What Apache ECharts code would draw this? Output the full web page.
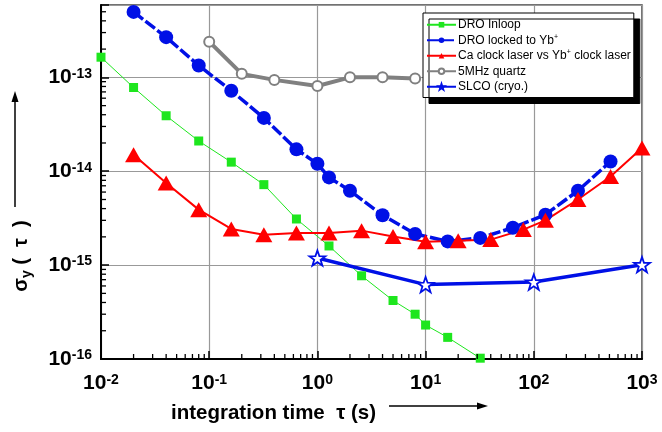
<!DOCTYPE html>
<html>
<head>
<meta charset="utf-8">
<script src="https://cdn.jsdelivr.net/npm/echarts@6/dist/echarts.min.js"></script>
<style>
  html, body { margin: 0; padding: 0; background: #fff; }
  #chart { width: 662px; height: 432px; }
</style>
</head>
<body>
<div id="chart"></div>
<script>
// tick decades (exponents of 10)
const xTickExps = [-2, -1, 0, 1, 2, 3];
const yTickExps = [-16, -15, -14, -13];
const xMin = 0.01, xMax = 1000;
const yMin = 1e-16, yMax = 5.9e-13;

// DRO Inloop
const droInX = [0.01, 0.02, 0.04, 0.08, 0.16, 0.32, 0.64, 1.28, 2.56, 5, 8, 10, 16, 32];
const droInY = [1.64e-13, 7.8e-14, 3.9e-14, 2.1e-14, 1.25e-14, 7.2e-15, 3.1e-15, 1.6e-15, 7.7e-16, 4.2e-16, 3.0e-16, 2.3e-16, 1.7e-16, 1.02e-16];

// DRO locked to Yb+
const droYbX = [0.02, 0.04, 0.08, 0.16, 0.32, 0.64, 1, 1.28, 2, 4, 8, 16, 32, 64, 128, 256, 512];
const droYbY = [4.98e-13, 2.68e-13, 1.34e-13, 7.2e-14, 3.7e-14, 1.71e-14, 1.2e-14, 8.6e-15, 6.2e-15, 3.4e-15, 2.15e-15, 1.79e-15, 1.95e-15, 2.5e-15, 3.45e-15, 6.2e-15, 1.27e-14];

// Ca clock laser vs Yb+ clock laser
const caX = [0.02, 0.04, 0.08, 0.16, 0.32, 0.64, 1.28, 2.56, 5, 10, 20, 40, 80, 128, 256, 512, 1000];
const caY = [1.5e-14, 7.5e-15, 3.9e-15, 2.43e-15, 2.11e-15, 2.2e-15, 2.2e-15, 2.33e-15, 2.02e-15, 1.77e-15, 1.82e-15, 1.87e-15, 2.39e-15, 3.0e-15, 5.0e-15, 8.8e-15, 1.77e-14];

// 5MHz quartz
const quartzX = [0.1, 0.2, 0.4, 1, 2, 4, 8];
const quartzY = [2.4e-13, 1.09e-13, 9.4e-14, 8.1e-14, 1.0e-13, 1.0e-13, 9.7e-14];

// SLCO (cryo.)
const slcoX = [1, 10, 100, 1000];
const slcoY = [1.19e-15, 6.2e-16, 6.6e-16, 1.01e-15];

const pairs = (xs, ys) => xs.map((x, i) => [x, ys[i]]);

const FONT = "'Liberation Sans', Arial, sans-serif";
const starPath = 'path://M50 0 L61.76 33.82 L97.55 34.55 L69.02 56.18 L79.39 90.45 L50 70 L20.61 90.45 L30.98 56.18 L2.45 34.55 L38.24 33.82 Z';

function isDecade(v, exps) {
  const l = Math.log10(v);
  const e = Math.round(l);
  return Math.abs(l - e) < 1e-6 && exps.indexOf(e) >= 0 ? e : null;
}

const labelRich = {
  b: { fontSize: 21, fontWeight: 'bold', fontFamily: FONT, color: '#000', verticalAlign: 'bottom' },
  e: { fontSize: 14, fontWeight: 'bold', fontFamily: FONT, color: '#000', verticalAlign: 'top' }
};

const chart = echarts.init(document.getElementById('chart'));

const option = {
  animation: false,
  backgroundColor: '#fff',
  grid: {
    left: 101, right: 20, top: 5, bottom: 73,
    show: true, borderColor: '#444', borderWidth: 1.5, backgroundColor: 'transparent'
  },
  xAxis: {
    type: 'log', logBase: 10, min: xMin, max: xMax,
    axisLine: { lineStyle: { color: '#000', width: 2 } },
    axisTick: { inside: true, length: 8, lineStyle: { color: '#000', width: 1.5 } },
    splitLine: { show: true, lineStyle: { color: '#999', width: 1.2 } },
    axisLabel: {
      margin: 14,
      formatter: v => { const e = isDecade(v, xTickExps); return e === null ? '' : '{b|10}{e|' + e + '}'; },
      rich: labelRich
    }
  },
  yAxis: {
    type: 'log', logBase: 10, min: yMin, max: yMax,
    axisLine: { lineStyle: { color: '#000', width: 2 } },
    axisTick: { inside: true, length: 8, lineStyle: { color: '#000', width: 1.5 } },
    splitLine: { show: true, lineStyle: { color: '#999', width: 1.2 } },
    axisLabel: {
      margin: 9,
      formatter: v => { const e = isDecade(v, yTickExps); return e === null ? '' : '{b|10}{e|' + e + '}'; },
      rich: labelRich
    }
  },
  legend: {
    orient: 'vertical',
    left: 423, top: 13,
    padding: [5, 3, 4, 3],
    itemGap: 2,
    itemWidth: 29, itemHeight: 7,
    backgroundColor: '#fff',
    borderColor: '#000', borderWidth: 1,
    shadowColor: '#000', shadowBlur: 0, shadowOffsetX: 6, shadowOffsetY: 6,
    formatter: name => name.replace('Yb+', 'Yb{s|+}'),
    textStyle: {
      fontSize: 12, lineHeight: 13.5, fontFamily: FONT, color: '#000', padding: [0, 0, 0, -3],
      rich: { s: { fontSize: 7, fontFamily: FONT, color: '#000', verticalAlign: 'top' } }
    },
    data: ['DRO Inloop', 'DRO locked to Yb+', 'Ca clock laser vs Yb+ clock laser', '5MHz quartz', 'SLCO (cryo.)']
  },
  series: [
    {
      name: 'DRO Inloop', type: 'line', data: pairs(droInX, droInY),
      symbol: 'rect', symbolSize: 9,
      itemStyle: { color: '#1ee61e' },
      lineStyle: { color: '#1ee61e', width: 1 }
    },
    {
      name: 'DRO locked to Yb+', type: 'line', data: pairs(droYbX, droYbY),
      symbol: 'circle', symbolSize: 14,
      itemStyle: { color: '#0010e6' },
      lineStyle: { color: '#0010e6', width: 3.5, type: [12, 3] }
    },
    {
      name: 'Ca clock laser vs Yb+ clock laser', type: 'line', data: pairs(caX, caY),
      symbol: 'triangle', symbolSize: [17, 15],
      itemStyle: { color: '#ff0000' },
      lineStyle: { color: '#ff0000', width: 2 }
    },
    {
      name: '5MHz quartz', type: 'line', data: pairs(quartzX, quartzY),
      symbol: 'circle', symbolSize: 10,
      itemStyle: { color: '#fff', borderColor: '#808080', borderWidth: 2 },
      lineStyle: { color: '#808080', width: 4 }
    },
    {
      name: 'SLCO (cryo.)', type: 'line', data: pairs(slcoX, slcoY),
      symbol: starPath, symbolSize: 16, symbolKeepAspect: true,
      itemStyle: { color: '#fff', borderColor: '#0010e6', borderWidth: 1.8 },
      lineStyle: { color: '#0010e6', width: 3.5 }
    }
  ]
};

chart.setOption(option);

// minor log ticks (2..9 per decade) placed through the axis scales
function minorTicks() {
  const els = [];
  const yBottom = chart.convertToPixel({ yAxisIndex: 0 }, yMin);
  const xLeft = chart.convertToPixel({ xAxisIndex: 0 }, xMin);
  for (let d = -2; d < 3; d++) {
    for (let k = 2; k <= 9; k++) {
      const px = chart.convertToPixel({ xAxisIndex: 0 }, k * Math.pow(10, d));
      els.push({ type: 'line', shape: { x1: px, y1: yBottom, x2: px, y2: yBottom - 5 }, style: { stroke: '#000', lineWidth: 1.3 }, z: 10 });
    }
  }
  for (let d = -16; d < -12; d++) {
    for (let k = 2; k <= 9; k++) {
      const v = k * Math.pow(10, d);
      if (v >= yMax) continue;
      const py = chart.convertToPixel({ yAxisIndex: 0 }, v);
      els.push({ type: 'line', shape: { x1: xLeft, y1: py, x2: xLeft + 5, y2: py }, style: { stroke: '#000', lineWidth: 1.3 }, z: 10 });
    }
  }
  return els;
}

const titles = [
  {
    type: 'text', x: 171, y: 413,
    style: { text: 'integration time  τ (s)', font: 'bold 20.5px ' + FONT, fill: '#000', align: 'left', verticalAlign: 'middle' }
  },
  { type: 'line', shape: { x1: 389, y1: 406, x2: 480, y2: 406 }, style: { stroke: '#000', lineWidth: 1.5 } },
  { type: 'polygon', shape: { points: [[488, 406], [477, 402.5], [477, 409.5]] }, style: { fill: '#000' } },
  { type: 'line', shape: { x1: 15, y1: 207, x2: 15, y2: 100 }, style: { stroke: '#000', lineWidth: 1.5 } },
  { type: 'polygon', shape: { points: [[15, 91], [11.5, 102], [18.5, 102]] }, style: { fill: '#000' } },
  {
    type: 'text', x: 21, y: 256, rotation: Math.PI / 2,
    style: {
      text: '{a|σ}{b|y}{a| (  τ  )}', align: 'center', verticalAlign: 'middle',
      rich: {
        a: { fontSize: 20, fontWeight: 'bold', fontFamily: FONT, color: '#000', verticalAlign: 'bottom' },
        b: { fontSize: 14, fontWeight: 'bold', fontFamily: FONT, color: '#000', verticalAlign: 'bottom', padding: [0, 0, -3, 0] }
      }
    }
  }
];

chart.setOption({ graphic: minorTicks().concat(titles) });
</script>
</body>
</html>
